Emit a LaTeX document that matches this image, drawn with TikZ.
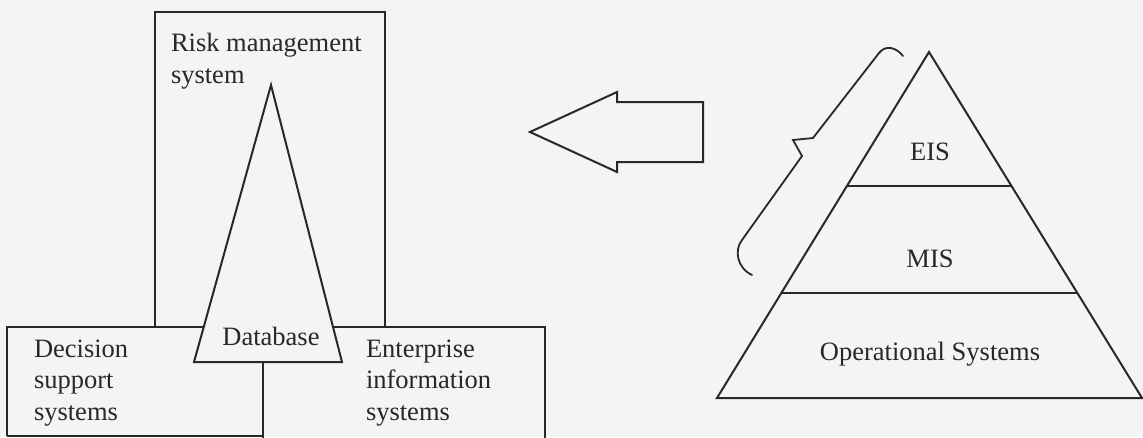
\documentclass[tikz,border=0pt]{standalone}
\usepackage{fontspec}
\setmainfont{Liberation Serif}
\usetikzlibrary{calc,positioning}

\definecolor{paper}{RGB}{244,244,244}
\definecolor{ink}{RGB}{40,40,40}

\begin{document}
\begin{tikzpicture}[x=1pt,y=-1pt,line width=2pt,draw=ink,
    lbl/.style={font=\fontsize{26.5}{31.5}\selectfont,text=ink,align=left,inner sep=0pt}]
  \fill[paper] (0,0) rectangle (1143,437);
  \useasboundingbox (0,0) rectangle (1143,437);

  % left: risk system on top of the database
  \coordinate (dbtop) at (271,85);
  \coordinate (dbl) at (194,362);
  \coordinate (dbr) at (342,362);
  \draw[ink] (155,327) |- (385,12) -- (385,327);
  \draw[ink] (7,436) |- (545,327) -- (545,440);
  \draw[ink] (7,436) -- (263,436);
  \coordinate (split) at (263,362);
  \draw[ink] (split) -- (263,440);
  \draw[ink,fill=paper] (dbtop) -- (dbl) -- (dbr) -- cycle;

  % base anchor of a multi-line node sits on its last line
  \node[lbl,anchor=base west] (risk) at (170,83) {Risk management\\system};
  \node[lbl,anchor=base] (db) at (271,345) {Database};
  \node[lbl,anchor=base west] (dss) at (33,420) {Decision\\support\\systems};
  \node[lbl,anchor=base west] (eis) at (365,420) {Enterprise\\information\\systems};

  % arrow pointing back to the left
  \draw[ink] (703,102) -- (617,102) -- (617,92) -- (530,132)
    -- (617,172) -- (617,162) -- (703,162) -- cycle;

  % right: the pyramid
  \coordinate (top) at (929,52);
  \coordinate (bl) at (717,398);
  \coordinate (br) at (1142,398);
  \draw[ink] (top) -- (bl) -- (br) -- cycle;
  \draw[ink] ($(top)!0.387!(bl)$) -- ($(top)!0.387!(br)$);
  \draw[ink] ($(top)!0.697!(bl)$) -- ($(top)!0.697!(br)$);
  \node[lbl,anchor=base] (exec) at (930,160) {EIS};
  \node[lbl,anchor=base] (mis) at (930,267) {MIS};
  \node[lbl,anchor=base] (ops) at (930,360) {Operational Systems};

  % hand drawn brace
  \draw[ink,line width=1.8pt,line cap=round] (903,56) .. controls (897,48) and (886,44) .. (879,53)
    -- (813,138) -- (793,140) -- (802,156) -- (742,240)
    .. controls (734,250) and (737,268) .. (752,275);
\end{tikzpicture}
\end{document}
